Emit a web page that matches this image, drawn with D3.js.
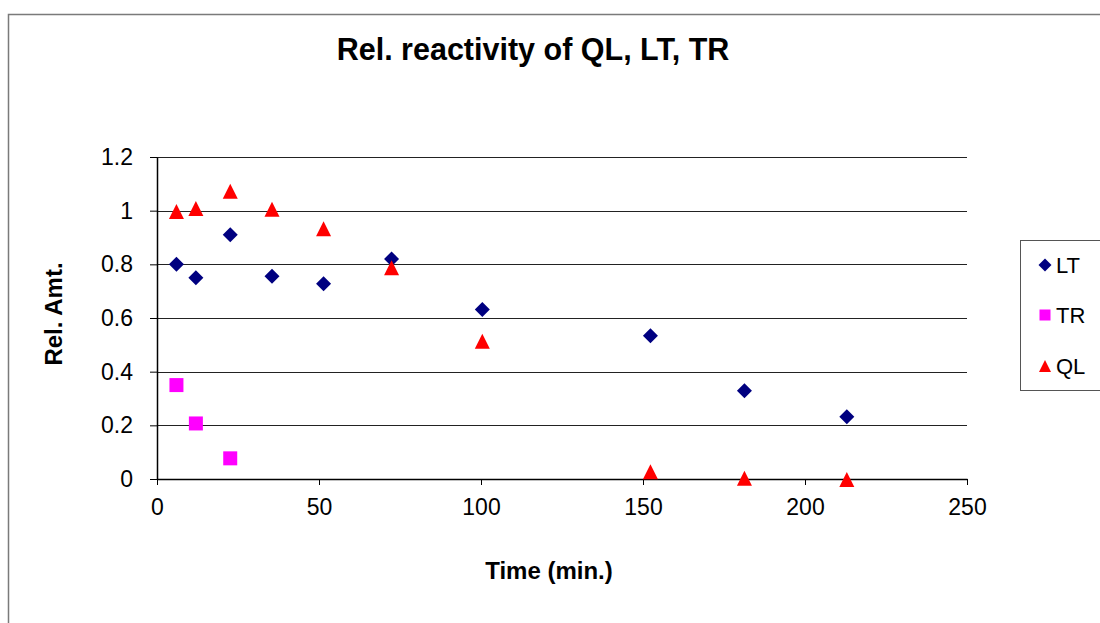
<!DOCTYPE html>
<html>
<head>
<meta charset="utf-8">
<script src="https://cdn.jsdelivr.net/npm/d3@7.9.0/dist/d3.min.js"></script>
<style>
  body { margin: 0; background: #fff; }
  svg { display: block; font-family: "Liberation Sans", Arial, sans-serif; }
</style>
</head>
<body>
<svg id="chart" width="1100" height="623"></svg>
<script>
// data
const ltTime = [6, 12, 22.6, 35.5, 51.4, 72.4, 100.4, 152.3, 181.3, 212.9];
const ltAmt = [0.80, 0.75, 0.91, 0.756, 0.728, 0.82, 0.632, 0.534, 0.329, 0.232];

const trTime = [6, 12, 22.6];
const trAmt = [0.35, 0.207, 0.077];

const qlTime = [6, 12, 22.6, 35.5, 51.4, 72.4, 100.4, 152.3, 181.3, 212.9];
const qlAmt = [0.997, 1.008, 1.072, 1.005, 0.933, 0.787, 0.513, 0.027, 0.003, -0.002];

const xTicks = [0, 50, 100, 150, 200, 250];
const yTicks = [0, 0.2, 0.4, 0.6, 0.8, 1, 1.2];

const svg = d3.select('#chart');

const plot = { left: 157, right: 967, top: 157, bottom: 479 };

const x = d3.scaleLinear().domain([0, 250]).range([plot.left, plot.right]);
const y = d3.scaleLinear().domain([0, 1.2]).range([plot.bottom, plot.top]);

// outer frame (cut off at the right and bottom)
svg.append('path')
  .attr('d', 'M8.5,640 V14.5 H1120')
  .attr('fill', 'none')
  .attr('stroke', '#7a7a7a')
  .attr('stroke-width', 1.5);

// gridlines
svg.append('g')
  .selectAll('line')
  .data(yTicks.filter(d => d > 0))
  .join('line')
  .attr('x1', plot.left)
  .attr('x2', plot.right)
  .attr('y1', d => Math.round(y(d)) + 0.5)
  .attr('y2', d => Math.round(y(d)) + 0.5)
  .attr('stroke', '#222')
  .attr('stroke-width', 1);

// axes
const xAxis = svg.append('g')
  .attr('transform', `translate(0,${plot.bottom})`)
  .call(d3.axisBottom(x).tickValues(xTicks).tickSize(6).tickSizeOuter(0).tickPadding(14));

const yAxis = svg.append('g')
  .attr('transform', `translate(${plot.left},0)`)
  .call(d3.axisLeft(y).tickValues(yTicks).tickFormat(d3.format('')).tickSize(7).tickSizeOuter(0).tickPadding(17));

[xAxis, yAxis].forEach(a => {
  a.select('.domain').attr('stroke', '#000').attr('stroke-width', 1.5);
  a.selectAll('.tick line').attr('stroke', '#000');
  a.selectAll('.tick text')
    .attr('fill', '#000')
    .style('font-size', '23px')
    .style('font-family', '"Liberation Sans", Arial, sans-serif');
});

// marker shapes
const diamond = {
  draw(ctx, size) {
    const r = Math.sqrt(size) / 2;
    ctx.moveTo(0, -r); ctx.lineTo(r, 0); ctx.lineTo(0, r); ctx.lineTo(-r, 0); ctx.closePath();
  }
};
const square = {
  draw(ctx, size) {
    const h = Math.sqrt(size) / 2;
    ctx.rect(-h, -h, 2 * h, 2 * h);
  }
};
const triangle = {
  draw(ctx, size) {
    const h = Math.sqrt(size) / 2;
    ctx.moveTo(0, -h); ctx.lineTo(h, h); ctx.lineTo(-h, h); ctx.closePath();
  }
};

const series = [
  { name: 'LT', time: ltTime, amt: ltAmt, color: '#000080', shape: diamond, size: 15 * 15, legSize: 13 * 13 },
  { name: 'TR', time: trTime, amt: trAmt, color: '#ff00ff', shape: square, size: 14 * 14, legSize: 11 * 11 },
  { name: 'QL', time: qlTime, amt: qlAmt, color: '#ff0000', shape: triangle, size: 15 * 15, legSize: 12 * 12 },
];

series.forEach(s => {
  const pts = s.time.map((t, i) => ({ t, v: s.amt[i] }));
  svg.append('g')
    .selectAll('path')
    .data(pts)
    .join('path')
    .attr('transform', d => `translate(${x(d.t)},${y(d.v)})`)
    .attr('d', d3.symbol().type(s.shape).size(s.size))
    .attr('fill', s.color);
});

// title
svg.append('text')
  .attr('x', 533)
  .attr('y', 60)
  .attr('text-anchor', 'middle')
  .style('font-size', '30.5px')
  .style('font-weight', 'bold')
  .text('Rel. reactivity of QL, LT, TR');

// axis titles
svg.append('text')
  .attr('x', 549)
  .attr('y', 579)
  .attr('text-anchor', 'middle')
  .style('font-size', '24px')
  .style('font-weight', 'bold')
  .text('Time (min.)');

svg.append('text')
  .attr('transform', 'translate(62,314) rotate(-90)')
  .attr('text-anchor', 'middle')
  .style('font-size', '24px')
  .style('font-weight', 'bold')
  .text('Rel. Amt.');

// legend
const legend = svg.append('g');
legend.append('rect')
  .attr('x', 1020.5)
  .attr('y', 240.5)
  .attr('width', 100)
  .attr('height', 150)
  .attr('fill', '#fff')
  .attr('stroke', '#555')
  .attr('stroke-width', 1);

const legendY = [265, 315, 366];
series.forEach((s, i) => {
  legend.append('path')
    .attr('transform', `translate(1045,${legendY[i]})`)
    .attr('d', d3.symbol().type(s.shape).size(s.legSize))
    .attr('fill', s.color);
  legend.append('text')
    .attr('x', 1056)
    .attr('y', legendY[i] + 8)
    .style('font-size', '22px')
    .text(s.name);
});
</script>
</body>
</html>
